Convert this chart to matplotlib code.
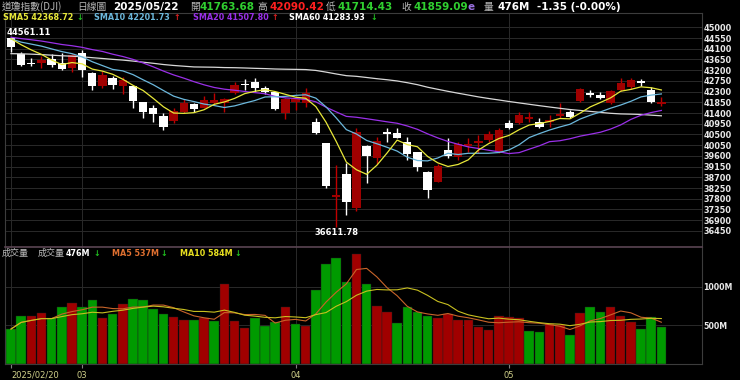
import numpy as np
import pandas as pd
import matplotlib
matplotlib.use('Agg')
import matplotlib.pyplot as plt

# DJI daily bars, 2025/02/20 .. 2025/05/22 (65 sessions)
opens = [44553, 43865, 43480, 43515, 43655, 43515, 43277, 43907, 43067, 42549,
         42885, 42549, 42535, 41849, 41597, 41289, 41065, 41429, 41779, 41625,
         41807, 41807, 42227, 42620, 42689, 42437, 42269, 41387, 41849, 41807,
         41037, 40127, 37887, 38839, 37397, 40029, 39525, 40600, 40547, 40197,
         39749, 38923, 38517, 39847, 39567, 40029, 40150, 40267, 39777, 40967,
         40967, 41149, 41037, 41009, 41289, 41429, 41905, 42227, 42157, 41807,
         42367, 42507, 42745, 42367, 41763.68]
highs = [44561.11, 43977, 43697, 43809, 43865, 43907, 43865, 44047, 43137, 43165,
         42955, 42927, 42540, 41877, 41737, 41387, 41597, 41989, 41807, 42129,
         42255, 42045, 42689, 42829, 42857, 42549, 42297, 42045, 42087, 42437,
         41177, 40160, 39217, 39287, 40785, 40060, 40407, 40757, 40785, 40407,
         39777, 38950, 39245, 40365, 40197, 40337, 40477, 40645, 40757, 41107,
         41429, 41457, 41177, 41317, 41807, 41527, 42437, 42367, 42297, 42367,
         42857, 42885, 42829, 42507, 42090.42]
lows = [43964, 43389, 43389, 43305, 43347, 43200, 43137, 42927, 42367, 42437,
        42409, 42185, 41625, 41205, 41037, 40687, 40967, 41387, 41429, 41597,
        41737, 41457, 42200, 42367, 42297, 42185, 41527, 41149, 41527, 41667,
        40519, 38265, 36611.78, 37117, 37285, 38447, 39245, 40197, 40337, 39427,
        38979, 37845, 38489, 39497, 39427, 39777, 39707, 40197, 39735, 40729,
        40925, 41037, 40757, 40827, 41177, 41177, 41880, 42087, 41989, 41779,
        42340, 42395, 42549, 41807, 41714.43]
closes = [44176.65, 43428.02, 43461.21, 43621.16, 43433.12, 43239.50, 43840.91, 43191.24, 42520.99, 43006.59,
          42579.08, 42801.72, 41911.71, 41433.48, 41350.93, 40813.57, 41488.19, 41841.63, 41581.31, 41964.63,
          41953.32, 41985.35, 42583.32, 42587.50, 42454.79, 42299.70, 41583.90, 42001.76, 41989.96, 42225.32,
          40545.93, 38314.86, 37965.60, 37645.59, 40608.45, 39593.66, 40212.71, 40524.79, 40368.96, 39669.39,
          39142.23, 38170.41, 39186.98, 39606.57, 40093.40, 40113.50, 40227.59, 40527.62, 40669.36, 40752.96,
          41317.43, 41218.83, 40829.00, 41113.97, 41368.45, 41249.38, 42410.10, 42140.43, 42051.06, 42322.75,
          42654.74, 42792.07, 42677.24, 41860.44, 41859.09]
volumes = [452, 625, 616, 655, 590, 742, 789, 733, 824, 590,
           651, 772, 845, 828, 716, 651, 603, 573, 573, 590,
           556, 1035, 556, 461, 599, 495, 539, 737, 517, 495,
           958, 1299, 1372, 1061, 1424, 1031, 751, 677, 535, 737,
           668, 621, 590, 651, 565, 565, 483, 440, 616, 603,
           590, 422, 409, 521, 504, 375, 660, 733, 668, 742,
           625, 543, 448, 612, 476]  # millions

# closes of the 59 sessions before 02/20 (2024/11/21 ..), only used so the SMA lines start right
prev_closes = [43870.35, 44296.51, 44736.57, 44860.31, 44722.06, 44910.65,
               44782.00, 44705.53, 45014.04, 44765.71, 44642.52, 44401.93, 44247.83, 44148.56,
               43914.12, 43828.06, 43717.48, 43449.90, 42326.87, 42342.24, 42840.26, 42906.95,
               43297.03, 43325.80, 42992.21, 42573.73, 42544.22,
               42392.27, 42732.13, 42706.56, 42528.36, 42635.20, 41938.45, 42297.12, 42518.28,
               43221.55, 43153.13, 43487.83, 44025.81, 44156.73, 44565.07, 44424.25, 44713.58,
               44850.35, 44713.52, 44882.13, 44544.66,
               44421.91, 44556.04, 44873.28, 44747.63, 44303.40, 44470.41, 44593.65, 44368.56,
               44711.43, 44546.08, 44556.34, 44627.59]

month_ticks = [0, 7, 28, 49]
month_labels = ['2025/02/20', '03', '04', '05']
price_ticks = list(range(36450, 45001, 450))
vol_ticks = [500, 1000]
vol_tick_labels = ['500M', '1000M']

RED = '#a00000'
GREEN = '#009a00'
W, H = 740, 380


def box(x0, y0, x1, y1):
    return [x0 / W, 1 - y1 / H, (x1 - x0) / W, (y1 - y0) / H]


fig = plt.figure(figsize=(7.4, 3.8), dpi=100, facecolor='black')
ax = fig.add_axes(box(5, 12.5, 702, 246.5), facecolor='black')
axv = fig.add_axes(box(5, 247, 702, 364), facecolor='black', sharex=ax)

x = np.arange(len(closes))
o, h, l, c = map(np.array, (opens, highs, lows, closes))

# candles: red when close >= open, white otherwise
up = c >= o
ax.vlines(x, l, h, colors=np.where(up, '#c00000', '#ffffff'), lw=1, zorder=2)
ax.bar(x, np.maximum(np.abs(c - o), 25), bottom=np.minimum(o, c), width=0.82,
       color=np.where(up, RED, '#ffffff'), zorder=3)

# moving averages
allc = pd.Series(prev_closes + closes)
n0 = len(prev_closes)
for win, col in [(60, '#d8d8d8'), (20, '#9a30e8'), (10, '#6cb8dc'), (5, '#e8e83a')]:
    ax.plot(x, allc.rolling(win).mean().to_numpy()[n0:], color=col, lw=0.9, zorder=4)

# max / min labels
imax, imin = int(np.argmax(h)), int(np.argmin(l))
ax.annotate(f'{h[imax]:.2f}', xy=(imax, h[imax]), xytext=(-4, 5), textcoords='offset pixels',
            ha='left', va='center', color='white', fontsize=6, fontweight='bold')
ax.annotate(f'{l[imin]:.2f}', xy=(imin, l[imin]), xytext=(0, -1), textcoords='offset pixels',
            ha='center', va='top', color='white', fontsize=6, fontweight='bold')

ax.set_ylim(35794, 45622)
ax.set_yticks(price_ticks)
ax.yaxis.tick_right()
ax.tick_params(axis='y', length=0, pad=1, labelsize=5.9, labelcolor='#e8e8e8')
ax.tick_params(axis='x', length=0, labelbottom=False)
for t in ax.get_yticklabels():
    t.set_fontweight('bold')

# volume
prev = np.r_[prev_closes[-1], c[:-1]]
vcol = np.where(c >= prev, RED, GREEN)
axv.bar(x, volumes, width=0.94, color=vcol, edgecolor='#202020', lw=0.3, zorder=2)
vs = pd.Series(volumes)
axv.plot(x, vs.rolling(5, min_periods=1).mean(), color='#c8642a', lw=0.8, zorder=3)
axv.plot(x, vs.rolling(10, min_periods=1).mean(), color='#c8c020', lw=0.8, zorder=3)
axv.set_ylim(0, 1514)
axv.set_yticks(vol_ticks, vol_tick_labels)
axv.yaxis.tick_right()
axv.tick_params(axis='y', length=0, pad=1, labelsize=5.7, labelcolor='#e8e8e8')
for t in axv.get_yticklabels():
    t.set_fontweight('bold')

axv.set_xlim(-0.59, 68.0)
axv.set_xticks(month_ticks, month_labels)
axv.tick_params(axis='x', length=3, width=0.8, color='#808080', pad=2,
                labelsize=6, labelcolor='#d0d08a')
axv.get_xticklabels()[0].set_ha('left')

for a in (ax, axv):
    a.grid(True, color='#2a2a2a', lw=0.7)
    a.set_axisbelow(True)
    for s in a.spines.values():
        s.set_color('#3c3c3c')
        s.set_linewidth(0.8)
axv.spines['top'].set_color('#5a4452')
axv.spines['top'].set_linewidth(1.2)


def txt(px, py, s, color, size=5.8, cjk=False, bold=True):
    fam = ['Noto Sans CJK TC', 'DejaVu Sans'] if cjk else 'DejaVu Sans'
    fig.text(px / W, 1 - py / H, s, color=color, fontsize=size,
             fontweight='bold' if bold else 'normal', family=fam, ha='left', va='center')


# header
GRAY = '#b8b8b8'
NUM_G = '#30d030'
txt(2, 7, '道瓊指數(DJI)', GRAY, 7, cjk=True, bold=False)
txt(77, 7, '日線圖', GRAY, 7, cjk=True, bold=False)
txt(113, 7, '2025/05/22', 'white', 7.5)
txt(190, 7, '開', GRAY, 7, cjk=True, bold=False)
txt(200, 7, '41763.68', NUM_G, 7.5)
txt(257, 7, '高', GRAY, 7, cjk=True, bold=False)
txt(269, 7, '42090.42', '#ff2020', 7.5)
txt(326, 7, '低', GRAY, 7, cjk=True, bold=False)
txt(337, 7, '41714.43', NUM_G, 7.5)
txt(401, 7, '收', GRAY, 7, cjk=True, bold=False)
txt(413, 7, '41859.09', NUM_G, 7.5)
txt(468, 7, 'e', '#9a70e0', 7.5)
txt(484, 7, '量', GRAY, 7, cjk=True, bold=False)
txt(497, 7, '476M', 'white', 7.5)
txt(537, 7, '-1.35 (-0.00%)', 'white', 7.5)

# SMA legend
DOWN, UPC = '#20c020', '#e02020'
txt(3, 18, 'SMA5 42368.72', '#e8e83a')
txt(76, 18, '↓', DOWN)
txt(94, 18, 'SMA10 42201.73', '#6cb8dc')
txt(173, 18, '↑', UPC)
txt(193, 18, 'SMA20 41507.80', '#9a30e8')
txt(271, 18, '↑', UPC)
txt(289, 18, 'SMA60 41283.93', 'white')
txt(370, 18, '↓', DOWN)

# volume legend
txt(2, 253, '成交量', GRAY, 6.5, cjk=True, bold=False)
txt(38, 253, '成交量', GRAY, 6.5, cjk=True, bold=False)
txt(66, 253, '476M', 'white')
txt(93, 253, '↓', DOWN)
txt(112, 253, 'MA5 537M', '#e07030')
txt(160, 253, '↓', DOWN)
txt(180, 253, 'MA10 584M', '#e8e020')
txt(234, 253, '↓', DOWN)

fig.savefig('out.png', dpi=100, facecolor='black')
